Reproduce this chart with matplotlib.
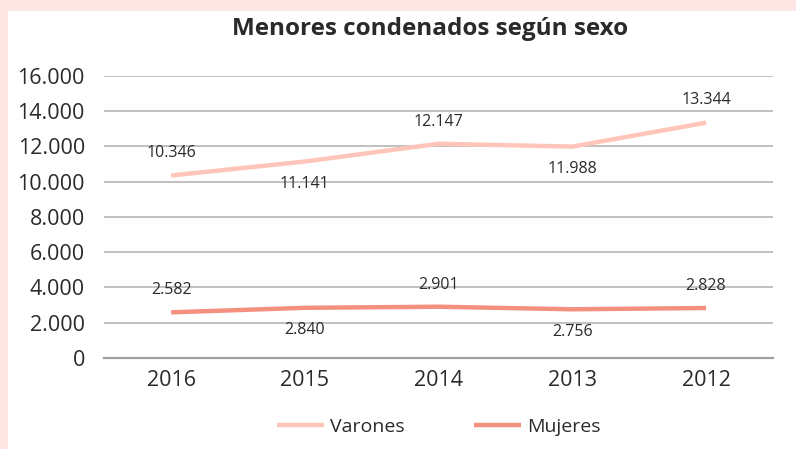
import matplotlib.pyplot as plt
from matplotlib.patches import Rectangle
from matplotlib.ticker import FuncFormatter

years = ["2016", "2015", "2014", "2013", "2012"]
varones = [10346, 11141, 12147, 11988, 13344]
mujeres = [2582, 2840, 2901, 2756, 2828]
label_side = [1, -1, 1, -1, 1]  # data label above (1) or below (-1)

c_var = "#FFC5B9"
c_muj = "#F4907D"
txt = "#2a2a2a"
font = "Open Sans"


def fmt(v):
    return f"{v:,.0f}".replace(",", ".")


fig = plt.figure(figsize=(7.96, 4.49), dpi=100, facecolor="#FDE6E3")
bg = fig.add_axes([0, 0, 1, 1], zorder=0)
bg.axis("off")
bg.add_patch(Rectangle((8 / 796, 0), 1, 1 - 11 / 449, transform=bg.transAxes,
                       facecolor="white", edgecolor="none"))

ax = fig.add_axes([0.131, 0.203, 0.84, 0.628], zorder=2)
ax.set_facecolor("none")
x = range(len(years))

ax.plot(x, varones, color=c_var, lw=3.2, label="Varones", solid_capstyle="butt", zorder=3)
ax.plot(x, mujeres, color=c_muj, lw=3.2, label="Mujeres", solid_capstyle="butt", zorder=3)

for series in (varones, mujeres):
    for i, v in enumerate(series):
        ax.annotate(fmt(v), (i, v), xytext=(0, 16 * label_side[i]), textcoords="offset points",
                    ha="center", va="center", fontsize=11.5, color=txt, family=font)

ax.set_xlim(-0.5, 4.5)
ax.set_ylim(0, 16000)
ax.set_yticks(range(0, 16001, 2000))
ax.yaxis.set_major_formatter(FuncFormatter(lambda v, p: fmt(v)))
ax.set_xticks(list(x))
ax.set_xticklabels(years)
ax.grid(axis="y", color="#b5b5b5", lw=1.2)
ax.set_axisbelow(True)
for s in ["top", "right", "left"]:
    ax.spines[s].set_visible(False)
ax.spines["bottom"].set_color("#a0a0a0")
ax.spines["bottom"].set_linewidth(1.6)
ax.tick_params(length=0, labelsize=15.5, colors=txt, pad=9)
ax.tick_params(axis="y", pad=14)
for lab in ax.get_xticklabels() + ax.get_yticklabels():
    lab.set_family(font)

fig.text(0.54, 0.935, "Menores condenados según sexo", ha="center", va="center",
         fontsize=17.5, fontweight="bold", color=txt, family=font, zorder=3)

leg = ax.legend(loc="upper center", bbox_to_anchor=(0.5, -0.15), ncol=2, frameon=False,
                prop={"family": font, "size": 14}, handlelength=2.4, handletextpad=0.3,
                columnspacing=3.6, labelcolor=txt)

fig.savefig("out.png", dpi=100, facecolor=fig.get_facecolor())
